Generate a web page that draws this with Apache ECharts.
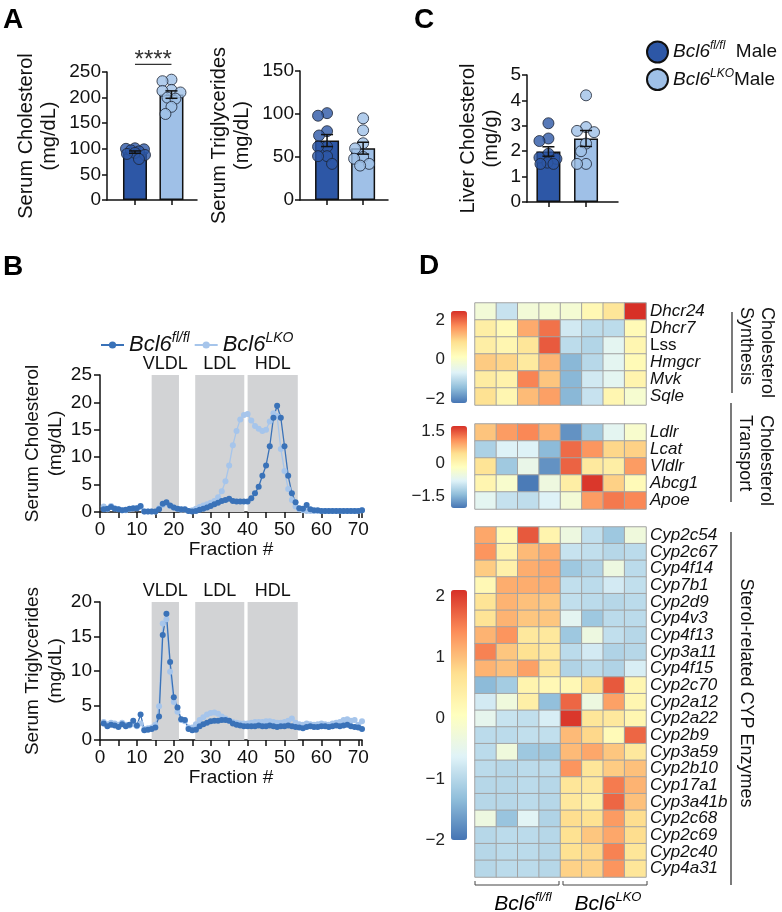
<!DOCTYPE html>
<html>
<head>
<meta charset="utf-8">
<title>Bcl6 cholesterol panels</title>
<script src="https://cdn.jsdelivr.net/npm/echarts@6/dist/echarts.min.js"></script>
<style>
  html, body { margin: 0; padding: 0; background: #fff; }
  #chart { width: 782px; height: 912px; }
</style>
</head>
<body>
<div id="chart"></div>
<script>
// ---------- data ----------
const serumCholFl  = [101, 100, 99, 97, 95, 92, 90, 88, 80];
const serumCholLko = [235, 232, 215, 213, 210, 200, 198, 182, 168];
const serumTgFl    = [101, 98, 80, 75, 62, 62, 51, 51, 42];
const serumTgLko   = [95, 81, 66, 60, 50, 48, 42, 40];
const liverCholFl  = [3.1, 2.5, 2.4, 1.9, 1.75, 1.7, 1.55, 1.5, 1.5];
const liverCholLko = [4.2, 2.95, 2.8, 2.75, 2.3, 2.0, 1.5, 1.5];

// FPLC fractions 1..71
const cholFplcFl = [
  0.5, 0.6, 0.9, 0.6, 0.5, 0.3, 0.4, 0.6, 0.7, 0.7,
  1.1, 0.1, 0.1, 0.1, 0.1, 0.5, 1.5, 1.8, 1.2, 0.8,
  0.6, 0.5, 0.5, 0.2, 0.1, 0.2, 0.4, 0.6, 0.8, 1.1,
  1.4, 1.7, 2.0, 2.2, 2.4, 2.0, 1.9, 1.9, 1.9, 1.9,
  2.5, 3.4, 4.6, 6.6, 8.5, 12.0, 17.2, 19.4, 17.2, 12.0,
  6.6, 3.4, 1.8, 0.7, 0.6, 1.3, 0.5, 0.3, 0.3, 0.2,
  0.2, 0.2, 0.2, 0.2, 0.2, 0.2, 0.2, 0.2, 0.2, 0.2, 0.3
];
const cholFplcLko = [
  1.0, 0.5, 1.1, 0.7, 0.5, 0.3, 0.3, 0.5, 0.6, 0.7,
  0.9, 0.1, 0.1, 0.1, 0.1, 0.7, 1.3, 1.6, 1.1, 0.8,
  0.6, 0.4, 0.4, 0.2, 0.3, 0.6, 0.9, 1.2, 1.4, 1.7,
  2.0, 2.7, 3.8, 5.6, 8.5, 12.2, 14.8, 16.9, 17.7, 17.9,
  16.7, 15.7, 15.2, 14.8, 15.0, 16.5, 18.0, 17.5, 11.5, 7.5,
  4.2, 2.2, 1.0, 0.5, 0.3, 0.2, 0.2, 0.2, 0.2, 0.2,
  0.2, 0.2, 0.2, 0.2, 0.2, 0.2, 0.2, 0.2, 0.2, 0.2, 0.3
];
const tgFplcFl = [
  2.4, 2.0, 2.2, 2.1, 1.9, 2.3, 2.0, 2.2, 2.8, 2.1,
  3.7, 1.4, 1.5, 1.6, 1.8, 3.4, 15.2, 18.3, 11.3, 6.2,
  4.7, 3.0, 2.9, 1.6, 1.4, 1.5, 2.0, 2.3, 2.5, 2.7,
  2.8, 2.8, 2.9, 2.9, 2.8, 2.4, 2.2, 2.1, 2.0, 2.0,
  2.0, 2.0, 2.1, 2.0, 2.0, 2.1, 2.0, 1.9, 2.0, 2.0,
  2.1, 2.0, 1.9, 1.8, 1.7, 1.9, 2.0, 1.9, 1.9, 2.0,
  2.0, 1.9, 2.0, 2.1, 2.0, 2.1, 2.2, 2.0, 1.9, 1.8, 1.6
];
const tgFplcLko = [
  2.6, 2.3, 2.5, 2.4, 2.2, 2.5, 2.2, 2.1, 2.3, 2.0,
  2.4, 1.6, 1.7, 1.8, 2.2, 4.9, 16.9, 17.5, 9.9, 5.5,
  4.1, 2.9, 2.7, 1.8, 1.8, 2.3, 2.9, 3.3, 3.7, 3.9,
  4.0, 3.8, 3.4, 3.1, 2.8, 2.6, 2.5, 2.4, 2.4, 2.4,
  2.5, 2.6, 2.6, 2.6, 2.7, 2.7, 2.6, 2.5, 2.5, 2.6,
  2.8, 3.1, 2.5, 2.3, 2.2, 2.4, 2.3, 2.2, 2.3, 2.4,
  2.3, 2.2, 2.4, 2.5, 2.6, 2.9, 3.0, 2.8, 2.9, 2.2, 2.7
];
const bandNames = ['VLDL', 'LDL', 'HDL'];
const bandStart = [14.0, 25.8, 40.0];
const bandEnd   = [21.4, 39.1, 53.6];

// heatmaps (row z-scores, 4 fl/fl then 4 LKO)
const samples = ['fl1', 'fl2', 'fl3', 'fl4', 'ko1', 'ko2', 'ko3', 'ko4'];
const synthGenes = ['Dhcr24', 'Dhcr7', 'Lss', 'Hmgcr', 'Mvk', 'Sqle'];
const synthZ = [
  [-0.2, -0.9, -0.2, -0.15, -0.15, 0.3, 0.75, 2.45],
  [0.55, 0.25, 1.4, 1.9, -0.8, -1.0, -1.0, 0.25],
  [0.55, 0.35, 0.75, 2.1, -1.0, -1.1, -0.55, 0.35],
  [1.1, 1.0, 0.65, 1.3, -1.5, -1.05, -0.55, 0.25],
  [0.6, 0.45, 1.75, 1.15, -1.5, -0.8, -0.55, 0.4],
  [0.85, 0.35, 1.25, 1.5, -1.5, -0.9, 0.35, -0.1]
];
const transGenes = ['Ldlr', 'Lcat', 'Vldlr', 'Abcg1', 'Apoe'];
const transZ = [
  [0.7, 1.0, 1.15, 0.85, -1.8, -1.3, -0.7, -0.3],
  [-1.2, -0.8, -0.8, -1.45, 1.35, 1.05, 0.55, 0.6],
  [0.4, -1.3, -0.6, -1.8, 1.4, 0.3, 0.2, 1.0],
  [0.05, -0.3, -2.0, -0.5, 0.2, 1.7, 0.6, -0.05],
  [-0.7, -1.0, -1.05, -0.8, -0.4, 1.0, 1.25, 1.15]
];
const cypGenes = ['Cyp2c54', 'Cyp2c67', 'Cyp4f14', 'Cyp7b1', 'Cyp2d9', 'Cyp4v3', 'Cyp4f13',
  'Cyp3a11', 'Cyp4f15', 'Cyp2c70', 'Cyp2a12', 'Cyp2a22', 'Cyp2b9', 'Cyp3a59', 'Cyp2b10',
  'Cyp17a1', 'Cyp3a41b', 'Cyp2c68', 'Cyp2c69', 'Cyp2c40', 'Cyp4a31'];
const cypZ = [
  [1.2, 0.15, 1.8, 0.3, -0.35, -0.9, -1.2, -0.3],
  [1.35, 0.3, 1.05, 1.15, -0.85, -0.9, -1.0, -0.95],
  [0.9, 0.35, 1.15, 1.2, -1.2, -1.05, -0.35, -0.95],
  [0.2, 1.15, 1.15, 1.15, -0.9, -0.95, -0.75, -0.9],
  [0.65, 1.1, 1.0, 0.95, -0.9, -0.95, -1.0, -0.95],
  [0.65, 1.1, 0.95, 0.95, -0.55, -1.2, -0.95, -0.95],
  [1.1, 1.35, 0.55, 0.55, -1.2, -0.35, -0.9, -1.0],
  [1.5, 0.95, 0.7, 0.55, -0.95, -0.75, -1.05, -1.0],
  [1.1, 1.0, 1.25, 0.6, -1.05, -0.95, -1.05, -0.7],
  [-1.35, -1.15, 0.3, 0.2, 0.2, 0.7, 1.8, 0.25],
  [-0.75, -0.3, 0.4, -1.3, 1.7, -0.35, 1.25, 0.25],
  [-0.5, -0.85, -0.9, -0.7, 2.05, 0.6, 0.55, 0.25],
  [-0.95, -0.95, -0.9, -0.9, 1.05, 0.8, 0.15, 1.7],
  [-0.95, -0.3, -1.2, -1.2, 1.05, 1.2, 0.95, 0.55],
  [-0.95, -1.0, -0.95, -0.95, 1.35, 0.6, 0.9, 1.0],
  [-1.0, -1.0, -0.95, -1.0, 0.6, 0.55, 1.55, 1.1],
  [-1.0, -1.0, -0.95, -1.0, 0.55, 0.4, 1.7, 1.0],
  [-0.35, -1.25, -0.6, -1.05, 0.75, 0.7, 1.3, 0.75],
  [-1.0, -0.95, -0.95, -1.0, 0.7, 0.95, 1.2, 0.75],
  [-1.0, -0.95, -0.95, -1.0, 0.7, 0.8, 1.5, 0.6],
  [-1.0, -0.95, -0.95, -1.0, 0.85, 0.85, 1.35, 0.6]
];
const synthRange = [-2.2, 2.45];
const transRange = [-2.05, 1.75];
const cypRange = [-2.0, 2.1];
const synthTicks = [-2, 0, 2];
const transTicks = [-1.5, 0, 1.5];
const cypTicks = [-2, -1, 0, 1, 2];

// ---------- style ----------
const FONT = 'Liberation Sans';
const INK = '#111';
const DARK = '#2d57a6';
const LIGHT = '#9fc0e7';
const LINE_DARK = '#3a72b8';
const LINE_LIGHT = '#a6c5eb';
const BAND = '#d2d3d5';
const RDYLBU = ['#4575B4', '#91BFDB', '#E0F3F8', '#FFFFBF', '#FEE090', '#FC8D59', '#D73027'];

const chart = echarts.init(document.getElementById('chart'));

function mean(a) { return a.reduce((s, v) => s + v, 0) / a.length; }
function sem(a) {
  const m = mean(a);
  const sd = Math.sqrt(a.reduce((s, v) => s + (v - m) * (v - m), 0) / (a.length - 1));
  return sd / Math.sqrt(a.length);
}
// spread overlapping dots sideways, but keep them inside the bar
function swarm(vals, pxPerUnit, d, maxOff) {
  const placed = [];
  return vals.map(v => {
    const y = v * pxPerUnit;
    let best = 0, bestGap = -1;
    for (let k = 0; k <= maxOff; k++) {
      let done = false;
      for (const dx of (k === 0 ? [0] : [-k, k])) {
        const gap = placed.reduce((g, p) => Math.min(g, Math.hypot(p.dx - dx, p.y - y)), Infinity);
        if (gap >= d) { best = dx; done = true; break; }
        if (gap > bestGap) { bestGap = gap; best = dx; }
      }
      if (done) break;
    }
    placed.push({ dx: best, y });
    return best;
  });
}

const supRich = {
  b: { fontFamily: FONT, fontSize: 19, fontStyle: 'italic', color: INK, lineHeight: 24 },
  s: { fontFamily: FONT, fontSize: 12, fontStyle: 'italic', color: INK, lineHeight: 12, verticalAlign: 'top' },
  m: { fontFamily: FONT, fontSize: 19, color: INK, lineHeight: 24 }
};
const supRichBig = {
  b: { fontFamily: FONT, fontSize: 22, fontStyle: 'italic', color: INK, lineHeight: 28 },
  s: { fontFamily: FONT, fontSize: 14, fontStyle: 'italic', color: INK, lineHeight: 14, verticalAlign: 'top' }
};
const supRichMid = {
  b: { fontFamily: FONT, fontSize: 21, fontStyle: 'italic', color: INK, lineHeight: 26 },
  s: { fontFamily: FONT, fontSize: 13, fontStyle: 'italic', color: INK, lineHeight: 13, verticalAlign: 'top' }
};

// ---------- grids & axes ----------
const grids = [
  { left: 107, top: 72, width: 90, height: 128 },    // 0 serum chol
  { left: 300, top: 71, width: 88, height: 129 },    // 1 serum TG
  { left: 527, top: 75, width: 91, height: 127 },    // 2 liver chol
  { left: 100, top: 375, width: 262, height: 137 },  // 3 FPLC chol
  { left: 100, top: 602, width: 262, height: 138 },  // 4 FPLC TG
  { left: 475, top: 303, width: 171, height: 102 },  // 5 synthesis heatmap
  { left: 475, top: 424, width: 171, height: 85 },   // 6 transport heatmap
  { left: 475, top: 527, width: 171, height: 350 },  // 7 CYP heatmap
  { left: 451, top: 311, width: 16, height: 92 },    // 8 colorbar synth
  { left: 451, top: 426, width: 16, height: 82 },    // 9 colorbar transport
  { left: 451, top: 590, width: 16, height: 250 }    // 10 colorbar CYP
].map(g => Object.assign({ containLabel: false, outerBoundsMode: 'none' }, g));

const axisLine = { show: true, onZero: false, lineStyle: { color: INK, width: 1.5 } };
const tickLbl = { fontFamily: FONT, fontSize: 19, color: INK };

function barX(gi, min, max) {
  return {
    gridIndex: gi, type: 'value', min, max,
    axisLine, splitLine: { show: false },
    axisTick: { show: true, customValues: [0, 1], length: 5, lineStyle: { color: INK, width: 1.5 } },
    axisLabel: { show: false }
  };
}
function barY(gi, max, interval, name, gap) {
  return {
    gridIndex: gi, type: 'value', min: 0, max, interval,
    axisLine, splitLine: { show: false },
    axisTick: { show: true, length: 5, lineStyle: { color: INK, width: 1.5 } },
    axisLabel: Object.assign({ margin: 6 }, tickLbl),
    name, nameLocation: 'middle', nameRotate: 90, nameGap: gap,
    nameTextStyle: { fontFamily: FONT, fontSize: 20, lineHeight: 23, color: INK }
  };
}
function fplcX(gi) {
  return {
    gridIndex: gi, type: 'value', min: 0, max: 71, interval: 5,
    axisLine, splitLine: { show: false },
    axisTick: { show: true, length: 6, lineStyle: { color: INK, width: 1.5 } },
    axisLabel: Object.assign({ margin: 8, formatter: v => (v % 10 === 0 ? String(v) : '') }, tickLbl),
    name: 'Fraction #', nameLocation: 'middle', nameGap: 28,
    nameTextStyle: { fontFamily: FONT, fontSize: 19, color: INK }
  };
}
function fplcY(gi, max, name) {
  return {
    gridIndex: gi, type: 'value', min: 0, max, interval: 5,
    axisLine, splitLine: { show: false },
    axisTick: { show: true, length: 6, lineStyle: { color: INK, width: 1.5 } },
    axisLabel: Object.assign({ margin: 8 }, tickLbl),
    name, nameLocation: 'middle', nameRotate: 90, nameGap: 32,
    nameTextStyle: { fontFamily: FONT, fontSize: 19, lineHeight: 23, color: INK }
  };
}
function heatX(gi) {
  return { gridIndex: gi, type: 'category', data: samples, show: false };
}
function heatY(gi, genes) {
  return {
    gridIndex: gi, type: 'category', data: genes, inverse: true, position: 'right',
    axisLine: { show: false }, axisTick: { show: false }, splitLine: { show: false },
    axisLabel: {
      interval: 0, margin: 4, fontFamily: FONT, fontSize: 17, fontStyle: 'italic', color: INK,
      formatter: g => (g === 'Lss' ? '{n|Lss}' : g),
      rich: { n: { fontFamily: FONT, fontSize: 17, fontStyle: 'normal', color: INK } }
    }
  };
}
function barLabelX(gi) {
  return { gridIndex: gi, type: 'value', min: 0, max: 1, show: false };
}
function barLabelY(gi, range, ticks) {
  return {
    gridIndex: gi, type: 'value', min: range[0], max: range[1],
    axisLine: { show: false }, axisTick: { show: false }, splitLine: { show: false },
    axisLabel: {
      customValues: ticks, margin: 6, fontFamily: FONT, fontSize: 17, color: '#222',
      formatter: v => (v < 0 ? '\u2212' + Math.abs(v) : String(v))
    }
  };
}

const xAxes = [
  barX(0, -0.767, 1.70), barX(1, -0.75, 1.69), barX(2, -0.57, 1.85),
  fplcX(3), fplcX(4),
  heatX(5), heatX(6), heatX(7),
  barLabelX(8), barLabelX(9), barLabelX(10)
];
const yAxes = [
  barY(0, 250, 50, 'Serum Cholesterol\n(mg/dL)', 46),
  barY(1, 150, 50, 'Serum Triglycerides\n(mg/dL)', 46),
  barY(2, 5, 1, 'Liver Cholesterol\n(mg/g)', 24),
  fplcY(3, 25, 'Serum Cholesterol\n(mg/dL)'),
  fplcY(4, 20, 'Serum Triglycerides\n(mg/dL)'),
  heatY(5, synthGenes), heatY(6, transGenes), heatY(7, cypGenes),
  barLabelY(8, synthRange, synthTicks), barLabelY(9, transRange, transTicks), barLabelY(10, cypRange, cypTicks)
];

// ---------- series ----------
const series = [];

function dotBar(gi, fl, ko, pxPerUnit) {
  const groups = [[fl, DARK, 'flMale'], [ko, LIGHT, 'koMale']];
  groups.forEach(([vals, color, name], x) => {
    series.push({
      type: 'bar', name, xAxisIndex: gi, yAxisIndex: gi, barWidth: 24, barGap: '-100%',
      data: [[x, mean(vals)]], silent: true,
      itemStyle: { color, borderColor: INK, borderWidth: 1.5 }
    });
  });
  const dots = [];
  groups.forEach(([vals, color], x) => {
    const offs = swarm(vals, pxPerUnit, 9, 10);
    vals.forEach((v, i) => dots.push({
      value: [x, v], symbolOffset: [offs[i], 0],
      itemStyle: { color, borderColor: '#1d2433', borderWidth: 1 }
    }));
  });
  series.push({
    type: 'scatter', xAxisIndex: gi, yAxisIndex: gi, symbol: 'circle', symbolSize: 11,
    data: dots, silent: true, z: 3
  });
  series.push({
    type: 'custom', xAxisIndex: gi, yAxisIndex: gi, silent: true, z: 4,
    data: groups.map(([vals], x) => [x, mean(vals), sem(vals)]),
    renderItem: (params, api) => {
      const x = api.value(0), m = api.value(1), s = api.value(2);
      const top = api.coord([x, m + s]);
      const bot = api.coord([x, m - s]);
      const st = { stroke: INK, lineWidth: 1.5 };
      return {
        type: 'group', children: [
          { type: 'line', shape: { x1: top[0], y1: top[1], x2: bot[0], y2: bot[1] }, style: st },
          { type: 'line', shape: { x1: top[0] - 6, y1: top[1], x2: top[0] + 6, y2: top[1] }, style: st },
          { type: 'line', shape: { x1: bot[0] - 6, y1: bot[1], x2: bot[0] + 6, y2: bot[1] }, style: st }
        ]
      };
    }
  });
}
dotBar(0, serumCholFl, serumCholLko, 128 / 250);
dotBar(1, serumTgFl, serumTgLko, 129 / 150);
dotBar(2, liverCholFl, liverCholLko, 127 / 5);

// significance bracket on serum cholesterol
series.push({
  type: 'custom', xAxisIndex: 0, yAxisIndex: 0, silent: true, clip: false, z: 5,
  data: [[0, 1, 265, '****']],
  renderItem: (params, api) => {
    const a = api.coord([api.value(0), api.value(2)]);
    const b = api.coord([api.value(1), api.value(2)]);
    return {
      type: 'group', children: [
        { type: 'line', shape: { x1: a[0], y1: a[1], x2: b[0], y2: b[1] }, style: { stroke: '#333', lineWidth: 1.3 } },
        { type: 'text', x: (a[0] + b[0]) / 2, y: a[1] + 8,
          style: { text: '****', fontFamily: FONT, fontSize: 24, fill: '#333', align: 'center', verticalAlign: 'bottom' } }
      ]
    };
  }
});

function bandArea() {
  return {
    silent: true,
    itemStyle: { color: BAND },
    label: { show: true, position: 'top', distance: 2, fontFamily: FONT, fontSize: 18, color: INK },
    data: bandNames.map((n, i) => [{ name: n, xAxis: bandStart[i] }, { xAxis: bandEnd[i] }])
  };
}
function fplc(gi, fl, ko) {
  series.push({
    type: 'line', name: 'ko', xAxisIndex: gi, yAxisIndex: gi,
    data: ko.map((v, i) => [i + 1, v]),
    symbol: 'circle', symbolSize: 6, showSymbol: true, silent: true,
    lineStyle: { color: LINE_LIGHT, width: 1.3 }, itemStyle: { color: LINE_LIGHT },
    markArea: bandArea()
  });
  series.push({
    type: 'line', name: 'fl', xAxisIndex: gi, yAxisIndex: gi,
    data: fl.map((v, i) => [i + 1, v]),
    symbol: 'circle', symbolSize: 6, showSymbol: true, silent: true,
    lineStyle: { color: LINE_DARK, width: 1.3 }, itemStyle: { color: LINE_DARK }
  });
}
fplc(3, cholFplcFl, cholFplcLko);
fplc(4, tgFplcFl, tgFplcLko);

const heatIdx = [];
function heat(gi, rows) {
  const data = [];
  rows.forEach((row, r) => row.forEach((v, c) => data.push([c, r, v])));
  heatIdx.push(series.length);
  series.push({
    type: 'heatmap', xAxisIndex: gi, yAxisIndex: gi, data, silent: true,
    itemStyle: { borderColor: '#a3a3a3', borderWidth: 1 },
    emphasis: { disabled: true }
  });
}
heat(5, synthZ);
heat(6, transZ);
heat(7, cypZ);

function colorbar(i, range, g) {
  return {
    type: 'continuous', seriesIndex: heatIdx[i], min: range[0], max: range[1],
    inRange: { color: RDYLBU }, calculable: false, hoverLink: false, padding: 0,
    left: g.left, top: g.top, itemWidth: g.width, itemHeight: g.height, orient: 'vertical'
  };
}

// ---------- annotations ----------
const letter = (t, x, y) => ({
  type: 'text', x, y, style: { text: t, fontFamily: FONT, fontSize: 28, fontWeight: 'bold', fill: '#000', verticalAlign: 'top' }
});
const gline = (x1, y1, x2, y2) => ({
  type: 'line', shape: { x1, y1, x2, y2 }, style: { stroke: '#333', lineWidth: 1.3 }
});
const sideText = (t, x, y, align) => ({
  type: 'text', x, y, rotation: -Math.PI / 2,
  style: { text: t, fontFamily: FONT, fontSize: 18, lineHeight: 21, fill: INK, align, verticalAlign: 'middle' }
});

const graphics = [
  letter('A', 3, 6), letter('C', 414, 6), letter('B', 3, 253), letter('D', 419, 252),
  gline(732, 312, 732, 393), gline(731, 403, 731, 502), gline(731, 532, 731, 885),
  sideText('Cholesterol\nSynthesis', 756, 307, 'left'),
  sideText('Cholesterol\nTransport', 755, 415, 'left'),
  sideText('Sterol-related CYP Enzymes', 746, 693, 'center'),
  { type: 'polyline', shape: { points: [[475, 881], [475, 885], [559, 885], [559, 881]] }, style: { stroke: '#444', lineWidth: 1, fill: null } },
  { type: 'polyline', shape: { points: [[563, 881], [563, 885], [647, 885], [647, 881]] }, style: { stroke: '#444', lineWidth: 1, fill: null } },
  { type: 'text', x: 523, y: 904, style: { text: '{b|Bcl6}{s|fl/fl}', rich: supRichMid, align: 'center', verticalAlign: 'middle' } },
  { type: 'text', x: 608, y: 904, style: { text: '{b|Bcl6}{s|LKO}', rich: supRichMid, align: 'center', verticalAlign: 'middle' } }
];

const option = {
  animation: false,
  textStyle: { fontFamily: FONT },
  grid: grids,
  xAxis: xAxes,
  yAxis: yAxes,
  visualMap: [
    colorbar(0, synthRange, grids[8]),
    colorbar(1, transRange, grids[9]),
    colorbar(2, cypRange, grids[10])
  ],
  legend: [
    {
      data: ['fl', 'ko'], left: 95, top: 326, itemWidth: 23, itemHeight: 9, itemGap: 4,
      selectedMode: false,
      formatter: n => (n === 'fl' ? '{b|Bcl6}{s|fl/fl}' : '{b|Bcl6}{s|LKO}'),
      textStyle: { rich: supRichBig }
    },
    {
      data: ['flMale', 'koMale'], left: 641, top: 35, orient: 'vertical',
      icon: 'circle', itemWidth: 21, itemHeight: 21, itemGap: 4, selectedMode: false,
      formatter: n => (n === 'flMale' ? '{b|Bcl6}{s|fl/fl}{m|  Male}' : '{b|Bcl6}{s|LKO}{m|Male}'),
      textStyle: { rich: supRich }
    }
  ],
  graphic: graphics,
  series
};
chart.setOption(option);
</script>
</body>
</html>
